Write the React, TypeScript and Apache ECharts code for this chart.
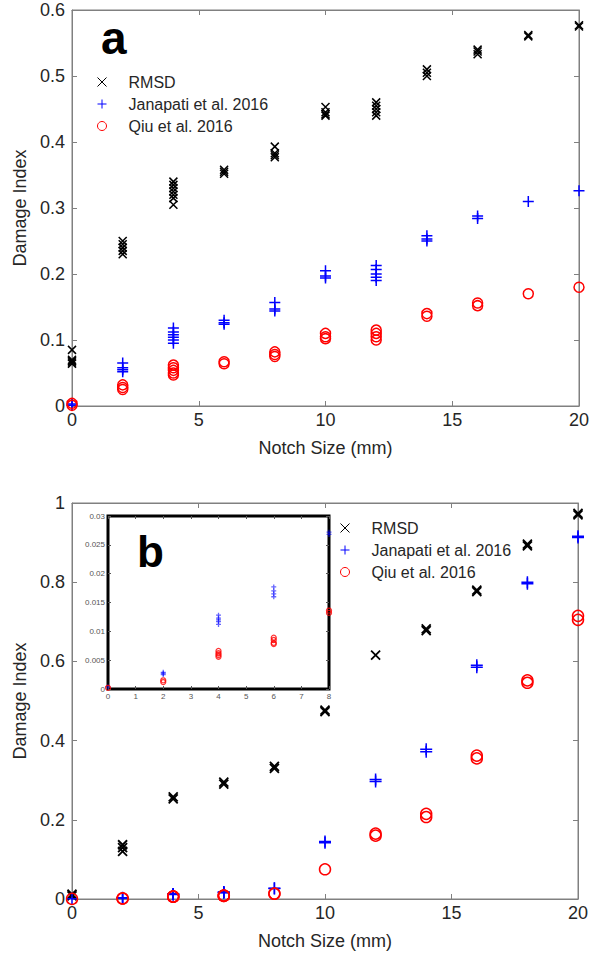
import React, { useEffect, useRef } from "react";
import * as echarts from "echarts";

// Notch sizes (mm)
const notchSizes = [0, 2, 4, 6, 8, 10, 12, 14, 16, 18, 20];

// Panel a – repeated measurements per notch size
const rmsdA = [
  [0.085, 0.07, 0.068, 0.066, 0.064],
  [0.25, 0.245, 0.24, 0.235, 0.23],
  [0.34, 0.335, 0.33, 0.325, 0.32, 0.315, 0.305],
  [0.358, 0.355, 0.352],
  [0.393, 0.383, 0.38, 0.377],
  [0.453, 0.445, 0.442, 0.44],
  [0.46, 0.455, 0.45, 0.445, 0.44],
  [0.51, 0.505, 0.5],
  [0.54, 0.537, 0.533],
  [0.562, 0.56],
  [0.577, 0.575],
];
const janapatiA = [
  [0.003, 0.001],
  [0.065, 0.058, 0.055, 0.052],
  [0.118, 0.112, 0.108, 0.104, 0.1, 0.095],
  [0.13, 0.126, 0.124],
  [0.157, 0.147, 0.144],
  [0.205, 0.197, 0.194],
  [0.213, 0.207, 0.2, 0.195, 0.19],
  [0.258, 0.253, 0.25],
  [0.288, 0.284],
  [0.31],
  [0.326],
];
const qiuA = [
  [0.004, 0.001],
  [0.032, 0.028, 0.025],
  [0.062, 0.058, 0.054, 0.05, 0.047],
  [0.067, 0.064],
  [0.082, 0.078, 0.075],
  [0.11, 0.105, 0.102],
  [0.115, 0.11, 0.105, 0.1],
  [0.14, 0.136],
  [0.156, 0.152],
  [0.17],
  [0.18],
];

// Panel b
const rmsdB = [
  [0.012, 0.008],
  [0.137, 0.13, 0.12],
  [0.258, 0.253],
  [0.295, 0.29],
  [0.335, 0.33],
  [0.477, 0.473],
  [0.616],
  [0.682, 0.678],
  [0.78, 0.776],
  [0.896, 0.892],
  [0.974, 0.97],
];
const janapatiB = [
  [0.0004],
  [0.0029, 0.0027, 0.0025],
  [0.0128, 0.0123, 0.012, 0.0117, 0.0112],
  [0.0177, 0.017, 0.0165, 0.016],
  [0.0272, 0.0268],
  [0.145, 0.142],
  [0.302, 0.297],
  [0.378, 0.372],
  [0.59, 0.585],
  [0.8, 0.796],
  [0.916, 0.913],
];
const qiuB = [
  [0.0002],
  [0.0015, 0.0012],
  [0.0066, 0.0062, 0.0059, 0.0056],
  [0.0089, 0.0085, 0.008, 0.0078],
  [0.0136, 0.0132],
  [0.075],
  [0.165, 0.16],
  [0.215, 0.207],
  [0.362, 0.355],
  [0.552, 0.546],
  [0.715, 0.705],
];

const insetMaxNotch = 8;
const seriesNames = ["RMSD", "Janapati et al. 2016", "Qiu et al. 2016"];
const xTicksMain = { min: 0, max: 20, interval: 5 };

function flatten(groups: number[][], maxX = Infinity) {
  const out: number[][] = [];
  groups.forEach((vals, i) => {
    const x = notchSizes[i];
    if (x > maxX) return;
    vals.forEach((v) => out.push([x, v]));
  });
  return out;
}

const X_PATH = "path://M0,0L10,10M10,0L0,10";
const PLUS_PATH = "path://M5,0L5,10M0,5L10,5";
const FONT = "Liberation Sans, Arial, sans-serif";
const AXIS_COLOR = "#808080";
const LABEL_COLOR = "#262626";

export default function App() {
  const ref = useRef<HTMLDivElement>(null);
  useEffect(() => {
    document.body.style.margin = "0";
    const chart = echarts.init(ref.current!, null, { renderer: "svg" });

    const styles = [
      { symbol: X_PATH, size: 8, color: "#000000" },
      { symbol: PLUS_PATH, size: 11, color: "#0000ff" },
      { symbol: "circle", size: 10, color: "#ff0000" },
    ];

    const mkSeries = (name: string, data: number[][], idx: number, xi: number, yi: number, size?: number, opacity = 1, bw = 1.5) => ({
      type: "scatter",
      name,
      xAxisIndex: xi,
      yAxisIndex: yi,
      data,
      symbol: styles[idx].symbol,
      symbolSize: size ?? styles[idx].size,
      symbolKeepAspect: true,
      itemStyle: {
        color: "none",
        borderColor: styles[idx].color,
        borderWidth: bw,
        opacity,
      },
      emphasis: { disabled: true },
      z: 3,
    });

    const tick = (len: number, color: string) => ({
      show: true,
      inside: true,
      length: len,
      lineStyle: { color, width: 1 },
    });

    const mainX = (gridIndex: number) => [
      {
        type: "value",
        gridIndex,
        ...xTicksMain,
        name: "Notch Size (mm)",
        nameLocation: "middle",
        nameGap: 33,
        nameTextStyle: { fontSize: 18, color: LABEL_COLOR, fontFamily: FONT },
        axisLine: { show: true, onZero: false, lineStyle: { color: AXIS_COLOR, width: 1 } },
        axisTick: tick(5, AXIS_COLOR),
        axisLabel: { fontSize: 18, color: LABEL_COLOR, fontFamily: FONT, margin: 5 },
        splitLine: { show: false },
      },
      {
        type: "value",
        gridIndex,
        position: "top",
        ...xTicksMain,
        axisLine: { show: true, onZero: false, lineStyle: { color: AXIS_COLOR, width: 1 } },
        axisTick: tick(5, AXIS_COLOR),
        axisLabel: { show: false },
        splitLine: { show: false },
      },
    ];
    const mainY = (gridIndex: number, max: number, interval: number) => [
      {
        type: "value",
        gridIndex,
        min: 0,
        max,
        interval,
        name: "Damage Index",
        nameLocation: "middle",
        nameGap: 38,
        nameTextStyle: { fontSize: 18, color: LABEL_COLOR, fontFamily: FONT },
        axisLine: { show: true, onZero: false, lineStyle: { color: AXIS_COLOR, width: 1 } },
        axisTick: tick(5, AXIS_COLOR),
        axisLabel: { fontSize: 18, color: LABEL_COLOR, fontFamily: FONT, margin: 7 },
        splitLine: { show: false },
      },
      {
        type: "value",
        gridIndex,
        position: "right",
        min: 0,
        max,
        interval,
        axisLine: { show: true, onZero: false, lineStyle: { color: AXIS_COLOR, width: 1 } },
        axisTick: tick(5, AXIS_COLOR),
        axisLabel: { show: false },
        splitLine: { show: false },
      },
    ];
    const insetAxisCommon = {
      axisLine: { show: false, onZero: false },
      axisTick: tick(3, "#555555"),
      splitLine: { show: false },
    };

    const legendCommon = {
      orient: "vertical",
      itemWidth: 9,
      itemHeight: 9,
      itemGap: 6,
      padding: 0,
      selectedMode: false,
      data: seriesNames,
      textStyle: { fontSize: 16, color: LABEL_COLOR, fontFamily: FONT, padding: [0, 0, 0, 17] },
      itemStyle: { borderWidth: 1 },
    };

    chart.setOption({
      animation: false,
      backgroundColor: "#ffffff",
      textStyle: { fontFamily: FONT },
      grid: [
        { left: 72, top: 10, width: 507, height: 396, show: true, borderColor: AXIS_COLOR, borderWidth: 1, backgroundColor: "transparent" },
        { left: 72, top: 503, width: 506, height: 396, show: true, borderColor: AXIS_COLOR, borderWidth: 1, backgroundColor: "transparent" },
        {
          left: 108,
          top: 516,
          width: 221,
          height: 173,
          show: true,
          backgroundColor: "#ffffff",
          borderColor: "#000000",
          borderWidth: 3,
          z: 5,
        },
      ],
      legend: [
        { ...legendCommon, left: 95, top: 74 },
        { ...legendCommon, left: 338, top: 520 },
      ],
      xAxis: [
        ...mainX(0),
        ...mainX(1),
        {
          type: "value",
          gridIndex: 2,
          min: 0,
          max: insetMaxNotch,
          interval: 1,
          ...insetAxisCommon,
          axisLabel: { fontSize: 8, color: "#555", fontFamily: FONT, margin: 3 },
          z: 6,
        },
        {
          type: "value",
          gridIndex: 2,
          position: "top",
          min: 0,
          max: insetMaxNotch,
          interval: 1,
          ...insetAxisCommon,
          axisLabel: { show: false },
          z: 6,
        },
      ],
      yAxis: [
        ...mainY(0, 0.6, 0.1),
        ...mainY(1, 1, 0.2),
        {
          type: "value",
          gridIndex: 2,
          min: 0,
          max: 0.03,
          interval: 0.005,
          ...insetAxisCommon,
          axisLabel: { fontSize: 8, color: "#555", fontFamily: FONT, margin: 3 },
          z: 6,
        },
        {
          type: "value",
          gridIndex: 2,
          position: "right",
          min: 0,
          max: 0.03,
          interval: 0.005,
          ...insetAxisCommon,
          axisLabel: { show: false },
          z: 6,
        },
      ],
      series: [
        mkSeries(seriesNames[0], flatten(rmsdA), 0, 0, 0),
        mkSeries(seriesNames[1], flatten(janapatiA), 1, 0, 0),
        mkSeries(seriesNames[2], flatten(qiuA), 2, 0, 0),
        mkSeries(seriesNames[0], flatten(rmsdB), 0, 2, 2, 9, 1, 1.8),
        mkSeries(seriesNames[1], flatten(janapatiB), 1, 2, 2, 12),
        mkSeries(seriesNames[2], flatten(qiuB), 2, 2, 2, 11),
        { ...mkSeries("inset Janapati", flatten(janapatiB, insetMaxNotch), 1, 4, 4, 5, 0.6, 1.3), z: 7 },
        { ...mkSeries("inset Qiu", flatten(qiuB, insetMaxNotch), 2, 4, 4, 5, 0.8, 1.3), z: 7 },
      ],
      graphic: [
        {
          type: "text",
          left: 101,
          top: 15,
          z: 10,
          style: { text: "a", font: `bold 46px ${FONT}`, fill: "#000" },
        },
        {
          type: "text",
          left: 137,
          top: 529,
          z: 10,
          style: { text: "b", font: `bold 44px ${FONT}`, fill: "#000" },
        },
      ],
    });
    return () => chart.dispose();
  }, []);
  return <div ref={ref} style={{ width: 603, height: 960 }} />;
}
